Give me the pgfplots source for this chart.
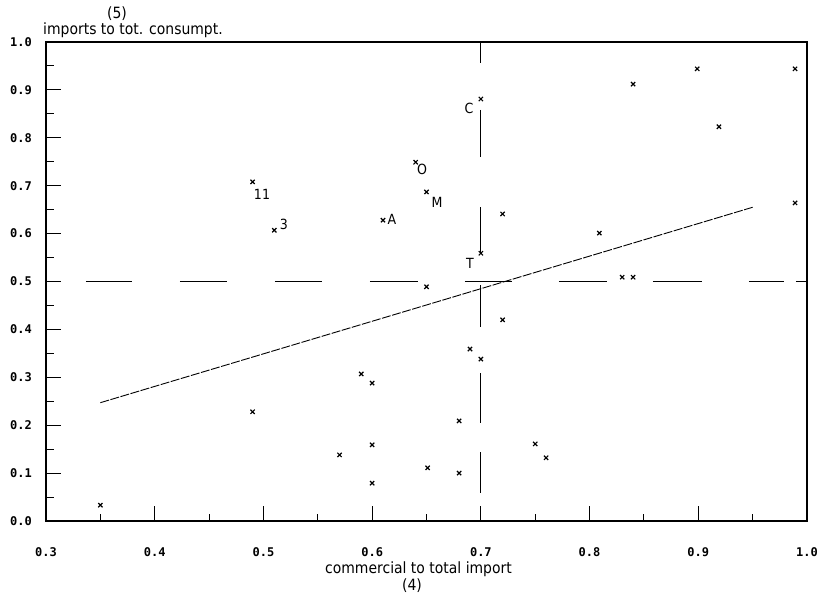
\documentclass[border=0pt]{standalone}
\usepackage{fontspec}
\setmainfont{DejaVu Sans}
\newfontfamily\lab{DejaVu Sans}[FakeStretch=0.9]
\newfontfamily\mono{DejaVu Sans Mono}
\usepackage{pgfplots}
\pgfplotsset{compat=1.18}
\begin{document}
\begin{tikzpicture}
\path[use as bounding box] (-46pt,-79pt) rectangle (775pt,521pt);
\begin{axis}[at={(0pt,0pt)}, anchor=south west, scale only axis,
  width=761pt, height=479pt,
  xmin=0.3, xmax=1.0, ymin=0, ymax=1.0,
  xtick={0.3,0.4,0.5,0.6,0.7,0.8,0.9,1.0},
  ytick={0,0.1,0.2,0.3,0.4,0.5,0.6,0.7,0.8,0.9,1.0},
  minor tick num=1,
  tick align=inside, xtick pos=left, ytick pos=left,
  major tick length=15pt, minor tick length=7.5pt,
  tick style={line width=1pt, black},
  axis line style={line width=1.3pt},
  /pgf/number format/assume math mode=true,
  /pgf/number format/.cd, fixed, fixed zerofill, precision=1, /tikz/.cd,
  ticklabel style={font=\mono\bfseries\fontsize{12}{12}\selectfont},
  xticklabel style={anchor=center, yshift=-31pt},
  yticklabel style={anchor=center, xshift=-25pt},
  clip=false,
]
% reference lines
\addplot[black, line width=1.3pt, dash pattern=on 46pt off 48pt on 47pt off 48pt on 47pt off 48pt on 48pt off 47pt on 47pt off 47pt on 48pt off 46pt on 49pt off 47pt on 35pt off 12pt on 20pt off 20pt]
  coordinates {(0.3367,0.5) (1.0,0.5)};
\addplot[black, line width=1.1pt, dash pattern=on 21pt off 47pt on 47pt off 50pt on 46pt off 32pt on 42pt off 46pt on 50pt off 29pt on 41pt off 40pt]
  coordinates {(0.7,1.0) (0.7,0.0)};
% regression line
\addplot[black, line width=0.9pt, dash pattern=on 9pt off 1.5pt]
  coordinates {(0.35,0.247) (0.95,0.655)};
% data points
\addplot[only marks, mark=x, mark size=3pt, line width=1.2pt, black] coordinates {
 (0.490,0.708) (0.510,0.607) (0.610,0.628) (0.640,0.749) (0.650,0.687)
 (0.700,0.881) (0.700,0.559) (0.720,0.641) (0.809,0.601) (0.840,0.912)
 (0.899,0.944) (0.919,0.823) (0.989,0.944) (0.989,0.664)
 (0.650,0.489) (0.830,0.509) (0.840,0.509) (0.720,0.420) (0.690,0.359) (0.700,0.338)
 (0.590,0.307) (0.600,0.288) (0.490,0.228) (0.680,0.209) (0.750,0.161) (0.600,0.159)
 (0.570,0.138) (0.760,0.132) (0.651,0.111) (0.680,0.100) (0.600,0.079) (0.350,0.033)
};
\end{axis}
% axis titles
\node[anchor=base, font=\lab\fontsize{15.5}{16}\selectfont, inner sep=0pt] at (372.5pt,-52pt) {commercial to total import};
\node[anchor=base, font=\lab\fontsize{15.5}{16}\selectfont, inner sep=0pt] at (366pt,-69pt) {(4)};
\node[anchor=base west, font=\lab\fontsize{15.5}{16}\selectfont, inner sep=0pt] at (-3pt,486pt) {imports to tot. consumpt.};
\node[anchor=base, font=\lab\fontsize{15.5}{16}\selectfont, inner sep=0pt] at (71pt,502pt) {(5)};
% point labels
\begin{scope}[every node/.style={font=\lab\fontsize{14}{14}\selectfont, inner sep=0pt, anchor=center}]
\node at (216pt,327pt) {11};
\node at (238pt,297pt) {3};
\node at (423pt,413pt) {C};
\node at (376pt,352pt) {O};
\node at (391pt,319pt) {M};
\node at (346pt,302pt) {A};
\node at (424pt,258pt) {T};
\end{scope}
\end{tikzpicture}
\end{document}
